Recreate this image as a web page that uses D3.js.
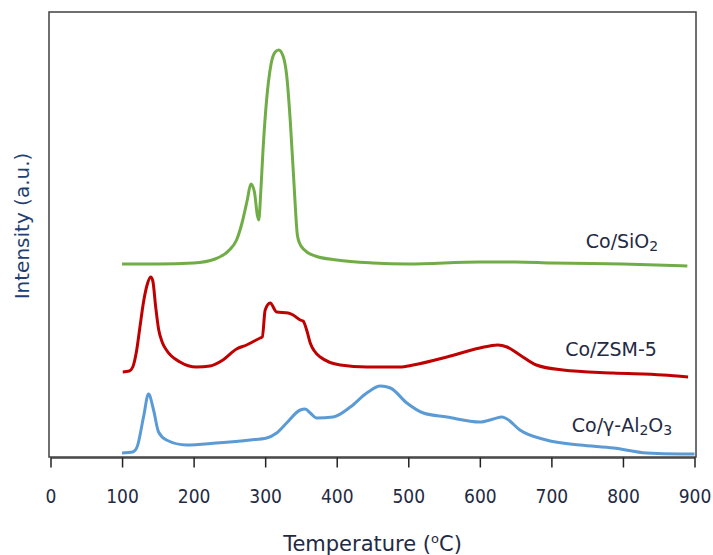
<!DOCTYPE html>
<html>
<head>
<meta charset="utf-8">
<script src="https://cdn.jsdelivr.net/npm/d3@7"></script>
<style>
  body { margin: 0; background: #fff; }
  text { font-family: "DejaVu Sans", Verdana, sans-serif; fill: #1f2a44; }
</style>
</head>
<body>
<svg id="chart"></svg>
<script>
// temperature (°C) / intensity (a.u.)
const sio2T = [100, 150, 200, 230, 250, 260, 268, 275, 280, 285, 289, 291, 294, 297, 302, 308, 314, 319, 325, 330, 335, 340, 345, 348, 355, 370, 400, 450, 500, 600, 650, 700, 800, 890];
const sio2I = [193, 193, 194, 198, 207, 217, 235, 257, 273, 265, 242, 237, 267, 307, 357, 392, 405, 407, 401, 382, 337, 277, 222, 214, 207, 201, 197, 194, 193, 195, 195, 194, 193, 191];

const zsmT = [101, 110, 115, 120, 125, 130, 135, 140, 143, 147, 151, 156, 162, 181, 204, 223, 241, 260, 274, 293, 296, 300, 307, 316, 332, 339, 349, 353, 358, 363, 377, 405, 442, 488, 507, 554, 600, 625, 638, 656, 679, 716, 786, 856, 891];
const zsmI = [85, 86, 90, 105, 130, 155, 172, 180, 176, 150, 128, 115, 107, 95, 90, 91, 97, 108, 112, 119, 120, 147, 154, 145, 144, 142, 137, 136, 127, 114, 100, 92, 90, 90, 92, 100, 109, 112, 110, 102, 92, 87, 84, 82, 80];

const alT = [100, 115, 121, 130, 137, 144, 151, 162, 190, 232, 279, 302, 316, 330, 349, 356, 363, 372, 395, 419, 442, 461, 475, 498, 521, 554, 600, 619, 631, 638, 656, 693, 740, 787, 833, 880, 900];
const alI = [4, 5, 10, 40, 63, 47, 25, 17, 12, 14, 17, 19, 24, 34, 47, 48, 44, 39, 40, 50, 64, 71, 69, 54, 44, 40, 35, 38, 40, 38, 27, 17, 12, 9, 4, 3, 3];

const xTicks = [0, 100, 200, 300, 400, 500, 600, 700, 800, 900];

const series = [
  {T: sio2T, I: sio2I, color: "#70ad47"},
  {T: zsmT, I: zsmI, color: "#c00000"},
  {T: alT, I: alI, color: "#5b9bd5"}
];

const W = 713, H = 555;
const m = {left: 50.5, right: 694.5, top: 12, bottom: 457};

const svg = d3.select("#chart").attr("width", W).attr("height", H);

const x = d3.scaleLinear().domain([0, 900]).range([m.left, m.right]);
const y = d3.scaleLinear().domain([0, 445]).range([m.bottom, m.top]);

// plot frame
svg.append("rect")
  .attr("x", 49).attr("y", m.top)
  .attr("width", 647).attr("height", m.bottom - m.top)
  .attr("fill", "none")
  .attr("stroke", "#404040")
  .attr("stroke-width", 1.5);

const line = d3.line()
  .x(d => x(d[0]))
  .y(d => y(d[1]))
  .curve(d3.curveMonotoneX);

series.forEach(s => {
  svg.append("path")
    .datum(s.T.map((t, i) => [t, s.I[i]]))
    .attr("fill", "none")
    .attr("stroke", s.color)
    .attr("stroke-width", 3)
    .attr("stroke-linejoin", "round")
    .attr("d", line);
});

// x axis
const xAxis = svg.append("g")
  .attr("transform", `translate(0,${m.bottom + 0.5})`)
  .call(d3.axisBottom(x).tickValues(xTicks).tickSize(10).tickSizeOuter(0).tickPadding(22));
xAxis.select(".domain").attr("stroke", "#404040").attr("stroke-width", 1.5);
xAxis.selectAll(".tick line").attr("stroke", "#222").attr("stroke-width", 1.5);
xAxis.selectAll(".tick text")
  .style("font-family", "'DejaVu Sans Condensed', 'DejaVu Sans', sans-serif")
  .style("font-stretch", "condensed")
  .style("font-size", "19px")
  .attr("fill", "#1f2a44");

// axis titles
svg.append("text")
  .attr("x", (m.left + m.right) / 2)
  .attr("y", 551)
  .attr("text-anchor", "middle")
  .style("font-size", "21px")
  .html('Temperature (<tspan dy="-8" font-size="13">o</tspan><tspan dy="8">C)</tspan>');

svg.append("text")
  .attr("transform", `translate(29,${226}) rotate(-90)`)
  .attr("text-anchor", "middle")
  .style("font-size", "20px")
  .style("fill", "#1f3f73")
  .text("Intensity (a.u.)");

// series labels
const lbl = svg.append("g").style("font-size", "19px");
lbl.append("text").attr("x", 622).attr("y", 248).attr("text-anchor", "middle")
  .html('Co/SiO<tspan font-size="14" dy="3">2</tspan>');
lbl.append("text").attr("x", 611).attr("y", 356).attr("text-anchor", "middle")
  .text("Co/ZSM-5");
lbl.append("text").attr("x", 622).attr("y", 432).attr("text-anchor", "middle")
  .html('Co/γ-Al<tspan font-size="14" dy="3">2</tspan><tspan dy="-3">O</tspan><tspan font-size="14" dy="3">3</tspan>');
</script>
</body>
</html>
